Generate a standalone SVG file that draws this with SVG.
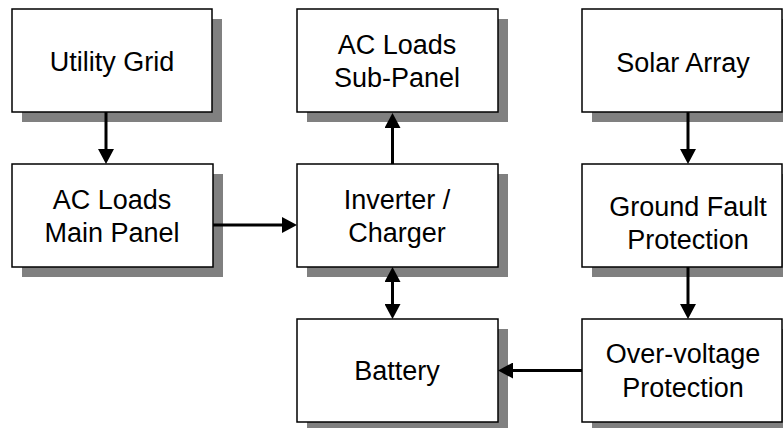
<svg xmlns="http://www.w3.org/2000/svg" width="783" height="428" viewBox="0 0 783 428">
<style>
.sh{fill:#808080}
.bx{fill:#fff;stroke:#000;stroke-width:1.5}
.t{font-family:"Liberation Sans",Arial,sans-serif;font-size:27px;fill:#000;text-anchor:middle}
.c{stroke:#000;stroke-width:3;fill:none}
</style>
<defs>
<marker id="ah" viewBox="0 0 15 16" refX="0" refY="8" markerWidth="15" markerHeight="16" markerUnits="userSpaceOnUse" orient="auto-start-reverse">
<path d="M0,0 L15,8 L0,16 z" fill="#000"/>
</marker>
</defs>
<rect width="783" height="428" fill="#fff"/>
<g id="utility-grid">
<rect class="sh" x="22" y="19" width="200" height="103"/>
<rect class="bx" x="12" y="9" width="200" height="103"/>
<text class="t" x="112" y="71">Utility Grid</text>
</g>
<g id="main-panel">
<rect class="sh" x="22" y="174" width="201" height="103"/>
<rect class="bx" x="12" y="164" width="201" height="103"/>
<text class="t" x="112" y="209">AC Loads</text>
<text class="t" x="112" y="242">Main Panel</text>
</g>
<g id="sub-panel">
<rect class="sh" x="307" y="19" width="201" height="103"/>
<rect class="bx" x="297" y="9" width="201" height="103"/>
<text class="t" x="397" y="54">AC Loads</text>
<text class="t" x="397" y="87">Sub-Panel</text>
</g>
<g id="inverter">
<rect class="sh" x="307" y="174" width="201" height="103"/>
<rect class="bx" x="297" y="164" width="201" height="103"/>
<text class="t" x="397" y="209">Inverter /</text>
<text class="t" x="397" y="242">Charger</text>
</g>
<g id="battery">
<rect class="sh" x="307" y="329" width="201" height="103"/>
<rect class="bx" x="297" y="319" width="201" height="103"/>
<text class="t" x="397" y="380">Battery</text>
</g>
<g id="solar-array">
<rect class="sh" x="592" y="19" width="200" height="103"/>
<rect class="bx" x="582" y="9" width="200" height="103"/>
<text class="t" x="683" y="72">Solar Array</text>
</g>
<g id="ground-fault">
<rect class="sh" x="592" y="174" width="200" height="103"/>
<rect class="bx" x="582" y="164" width="200" height="103"/>
<text class="t" x="688" y="216">Ground Fault</text>
<text class="t" x="688" y="249">Protection</text>
</g>
<g id="over-voltage">
<rect class="sh" x="592" y="329" width="200" height="103"/>
<rect class="bx" x="582" y="319" width="200" height="103"/>
<text class="t" x="683" y="363">Over-voltage</text>
<text class="t" x="683" y="397">Protection</text>
</g>
<g id="connectors">
<path class="c" d="M106,112 V149" marker-end="url(#ah)"/>
<path class="c" d="M213,225 H282" marker-end="url(#ah)"/>
<path class="c" d="M392.5,164 V128" marker-end="url(#ah)"/>
<path class="c" d="M392.5,282 V304" marker-start="url(#ah)" marker-end="url(#ah)"/>
<path class="c" d="M688,112 V149" marker-end="url(#ah)"/>
<path class="c" d="M688,267 V304" marker-end="url(#ah)"/>
<path class="c" d="M582,370.5 H513" marker-end="url(#ah)"/>
</g>
</svg>
